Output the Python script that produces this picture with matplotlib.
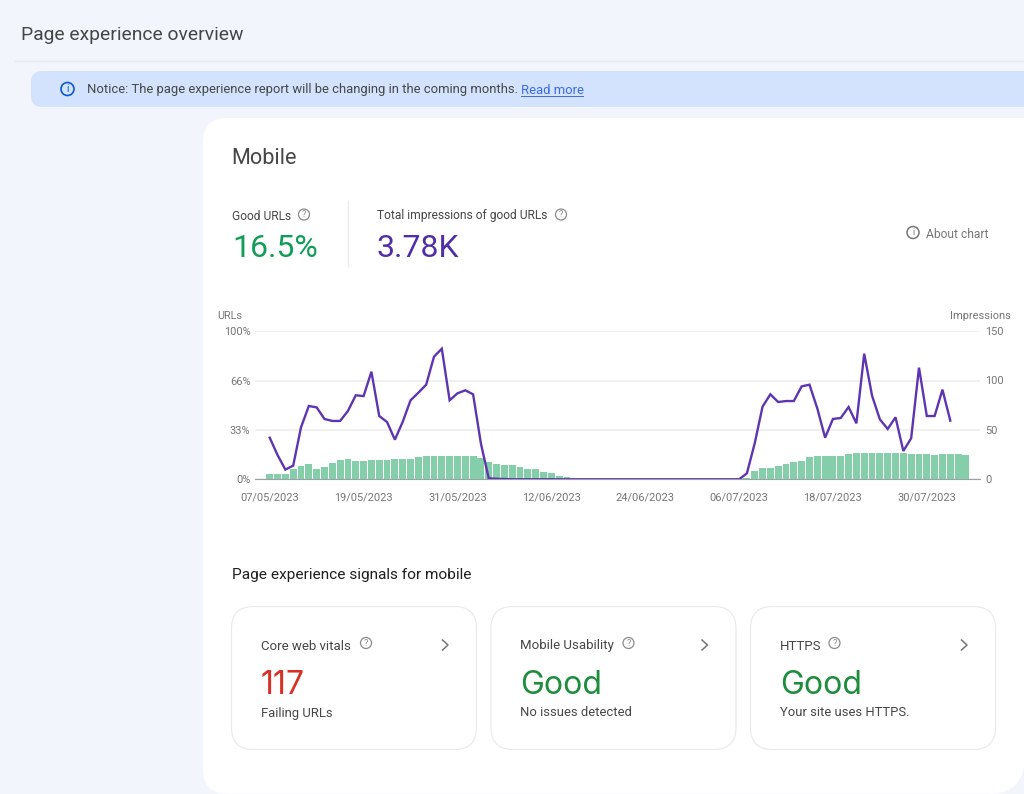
import matplotlib
matplotlib.use("Agg")
import matplotlib.pyplot as plt
from matplotlib.patches import Circle, FancyBboxPatch, Rectangle
import pandas as pd

# values
good_urls_pct = [
    3.4, 3.4, 3.4, 7, 8.7, 10, 7, 8, 11.2, 13,
    13.7, 12.3, 12.3, 13, 13, 13, 13.7, 13.7, 13.7, 14.8,
    15.5, 15.5, 15.5, 15.5, 15.5, 15.5, 15.7, 14.4, 11.9, 10.1,
    9.4, 9.4, 8.3, 7, 7, 5.2, 4.5, 2.2, 1.6, 0,
    0, 0, 0, 0, 0, 0, 0, 0, 0, 0,
    0, 0, 0, 0, 0, 0, 0, 0, 0, 0,
    0, 1, 5.8, 7.4, 7.4, 8.7, 10.5, 11.7, 12.3, 15.2,
    15.9, 15.9, 15.9, 15.9, 17, 17.7, 17.7, 17.7, 17.7, 17.7,
    17.7, 17.7, 17.3, 17.3, 17.3, 16.6, 17.3, 17.3, 17.3, 16.6,
]
impressions = [
    42, 24.5, 9.8, 13.8, 52.5, 74, 72.6, 60.9, 58.9, 58.9,
    69, 84.8, 84, 108.6, 63.9, 57.8, 40, 58, 79.7, 87.4,
    95.5, 123.8, 131.8, 79.7, 86.8, 89.8, 85.8, 36, 1, 0.5,
    0.3, 0, 0, 0, 0, 0, 0, 0, 0, 0,
    0, 0, 0, 0, 0, 0, 0, 0, 0, 0,
    0, 0, 0, 0, 0, 0, 0, 0, 0, 0,
    0, 6, 36.3, 73.3, 85.8, 78, 79, 79, 93.8, 95.5,
    71.6, 42, 60.9, 61.9, 73, 56.5, 126.8, 84.4, 60.5, 50.8,
    62.6, 28.6, 41.4, 112.7, 63.9, 63.9, 90.5, 59.2,
]
date_ticks = ["07/05/2023", "19/05/2023", "31/05/2023", "12/06/2023",
              "24/06/2023", "06/07/2023", "18/07/2023", "30/07/2023"]
url_ticks = [0, 33, 66, 100]
impression_ticks = [0, 50, 100, 150]
cards = [
    ("Core web vitals", "117", "Failing URLs", "#d93025"),
    ("Mobile Usability", "Good", "No issues detected", "#1e8e3e"),
    ("HTTPS", "Good", "Your site uses HTTPS.", "#1e8e3e"),
]

W, H = 1024, 794
BG = "#f2f5fc"
INK = "#444746"
GREY = "#747775"
PURPLE = "#5e35b1"

plt.rcParams["font.family"] = ["Roboto", "DejaVu Sans"]


def px(size):
    return size * 72 / 100


def label(x, y, s, size, color=INK, **kw):
    # y is the text baseline
    kw.setdefault("ha", "left")
    kw.setdefault("va", "baseline")
    return page.text(x, y, s, fontsize=px(size), color=color, **kw)


def round_box(x, y, w, h, r, fc, ec="none", lw=1):
    page.add_patch(FancyBboxPatch((x + r, y + r), w - 2 * r, h - 2 * r,
                                  boxstyle=f"round,pad={r},rounding_size={r}",
                                  fc=fc, ec=ec, lw=lw))


def help_icon(x, y, color="#8a8d8c", sym="?", r=5.5, size=9, lw=0.9):
    page.add_patch(Circle((x, y), r, fc="none", ec=color, lw=lw))
    label(x, y + 0.3, sym, size, color, ha="center", va="center")


fig = plt.figure(figsize=(W / 100, H / 100), dpi=100, facecolor=BG)

# page layer in screenshot pixels
page = fig.add_axes([0, 0, 1, 1])
page.set_xlim(0, W)
page.set_ylim(H, 0)
page.axis("off")

label(21, 39.5, "Page experience overview", 19.3)
page.plot([15, W], [60.5, 60.5], color="#e6e9ee", lw=1)

round_box(31, 71, 1040, 36, 11, "#d3e3fd")
help_icon(67.5, 89, "#0b57d0", "i", r=6.5, size=10, lw=1.2)
label(87, 93.5, "Notice: The page experience report will be changing in the coming months.", 13, INK)
label(521, 93.5, "Read more", 13, "#3b6ae8")
page.plot([521, 583], [95.5, 95.5], color="#3b6ae8", lw=0.7)

# card runs off the right edge at the top, rounded at the bottom right
round_box(203, 118, 860, 675.5, 24, "white")
page.add_patch(Rectangle((994, 763.5), 31, 31, fc=BG, ec="none"))
page.add_patch(Circle((994, 763.5), 30, fc="white", ec="none"))

label(231.5, 164.5, "Mobile", 21.7)
label(232, 219.5, "Good URLs", 12)
help_icon(304, 214.5)
label(232, 257, "16.5%", 32, "#0f9d58")
page.plot([347.5, 347.5], [201, 266], color="#eaecef", lw=1)
label(377, 219.5, "Total impressions of good URLs", 12.05)
help_icon(561, 214.5)
label(377, 257, "3.78K", 32, "#512da8")
help_icon(913, 232.5, GREY, "i", r=6, size=9, lw=1.1)
label(926, 237.5, "About chart", 12, GREY)

label(217, 319, "URLs", 10.8, GREY)
label(1011, 319, "Impressions", 11, GREY, ha="right")

label(232, 579.5, "Page experience signals for mobile", 15.4, "#1f1f1f")

for (name, value, note, color), left, icon_x in zip(cards, [231.5, 491, 750.5], [366, 628.5, 834.5]):
    round_box(left, 606.5, 245, 143, 22, "white", ec="#e8e9ec", lw=0.8)
    label(left + 29.5, 649.5, name, 13.2)
    help_icon(icon_x, 643)
    page.plot([left + 211, left + 216.5, left + 211], [640, 645, 650], color=GREY, lw=1.1)
    label(left + 29.5, 694, value, 32, color, family=["Inter", "DejaVu Sans"])
    label(left + 29.5, 716.5, note, 13)

# chart layer, box taken from the gridline ends
ax = fig.add_axes([254.7 / W, 1 - 479.3 / H, (980 - 254.7) / W, 148.6 / H], facecolor="none")
x_bars = pd.date_range("2023-05-07", periods=len(good_urls_pct))
x_line = x_bars[:len(impressions)]
ax.bar(x_bars, good_urls_pct, width=0.88, color="#84cfa9", zorder=2)
ax.set_ylim(0, 100)
ax.set_xlim(x_bars[0] - pd.Timedelta(days=1.92), x_bars[0] + pd.Timedelta(days=90.8))
ax.set_yticks(url_ticks, [f"{v}%" for v in url_ticks])
ax.set_xticks(pd.to_datetime(date_ticks, dayfirst=True), date_ticks)
ax.grid(axis="y", color="#ededed", lw=1.2, zorder=1)
ax.set_axisbelow(True)
ax.tick_params(length=0, labelsize=px(11), labelcolor=GREY)
ax.tick_params(axis="y", pad=3)
ax.tick_params(axis="x", pad=9.5)
for side in ["top", "left", "right"]:
    ax.spines[side].set_visible(False)
ax.spines["bottom"].set_color("#9aa0a6")

ax2 = ax.twinx()
ax2.plot(x_line, impressions, color=PURPLE, lw=1.7, zorder=3, solid_joinstyle="miter")
ax2.set_ylim(0, 150)
ax2.set_yticks(impression_ticks)
ax2.tick_params(length=0, labelsize=px(11), labelcolor=GREY, pad=4)
for side in ["top", "left", "right", "bottom"]:
    ax2.spines[side].set_visible(False)

fig.savefig("out.png", dpi=100, facecolor=BG)
